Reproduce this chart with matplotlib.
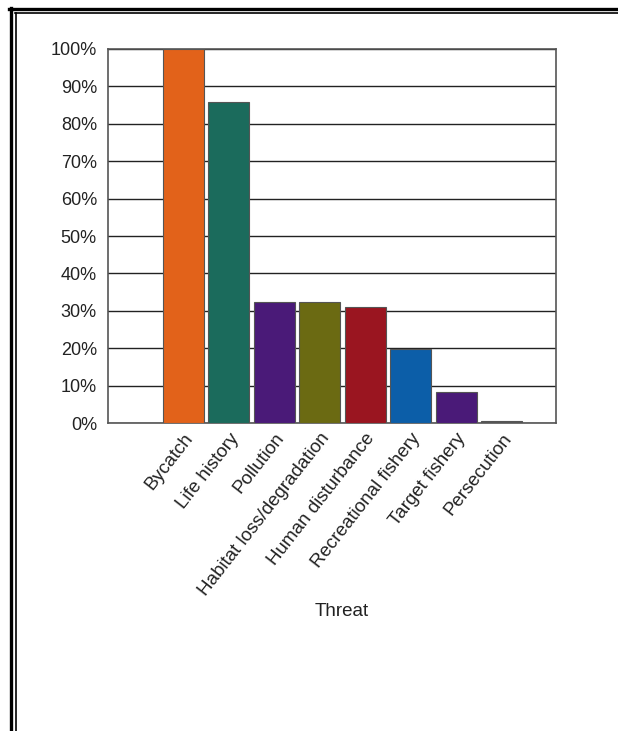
import matplotlib.pyplot as plt
from matplotlib.lines import Line2D
from matplotlib.ticker import PercentFormatter

plt.rcParams['font.family'] = ['Liberation Sans', 'DejaVu Sans']

# Threat categories and share of species affected (%)
threats = ["Bycatch", "Life history", "Pollution", "Habitat loss/degradation",
           "Human disturbance", "Recreational fishery", "Target fishery", "Persecution"]
shares = [100, 85.8, 32.4, 32.4, 30.9, 19.7, 8.4, 0.5]
bar_colors = ['#E2621A', '#1B6B5C', '#4A1A78', '#6B6A12',
              '#9A1520', '#0C5EA8', '#4A1A78', '#555555']

fig = plt.figure(figsize=(6.18, 7.31), dpi=100)
ax = fig.add_axes([0.1748, 0.4213, 0.7249, 0.5117])

ax.bar(range(len(threats)), shares, width=0.9, color=bar_colors,
       edgecolor='#555555', linewidth=0.8, zorder=3)

ax.set_ylim(0, 100)
ax.set_xlim(-1.66, 8.2)
ax.set_yticks(range(0, 101, 10))
ax.yaxis.set_major_formatter(PercentFormatter(decimals=0))
ax.grid(axis='y', color='#222222', linewidth=1.0, zorder=0)
ax.tick_params(axis='y', length=0, pad=8, labelsize=13, labelcolor='#222222')
ax.tick_params(axis='x', length=0, pad=5, labelsize=13.5, labelcolor='#222222')

ax.set_xticks(range(len(threats)))
ax.set_xticklabels(threats, rotation=52, ha='right', va='top', rotation_mode='anchor')

for side in ['left', 'right', 'top', 'bottom']:
    ax.spines[side].set_color('#555555')
    ax.spines[side].set_linewidth(1.2)

ax.set_xlabel("Threat", fontsize=13.5, color='#222222')
ax.xaxis.set_label_coords(0.522, -0.48)

# double frame lines along the top and left edges
fig.add_artist(Line2D([9 / 618, 1], [1 - 8.5 / 731] * 2, color='black', linewidth=2.4))
fig.add_artist(Line2D([14.5 / 618, 1], [1 - 13 / 731] * 2, color='black', linewidth=1.2))
fig.add_artist(Line2D([10.5 / 618] * 2, [0, 1 - 7.5 / 731], color='black', linewidth=2.4))
fig.add_artist(Line2D([15.5 / 618] * 2, [0, 1 - 12.5 / 731], color='black', linewidth=1.2))

fig.savefig('out.png', dpi=100)
